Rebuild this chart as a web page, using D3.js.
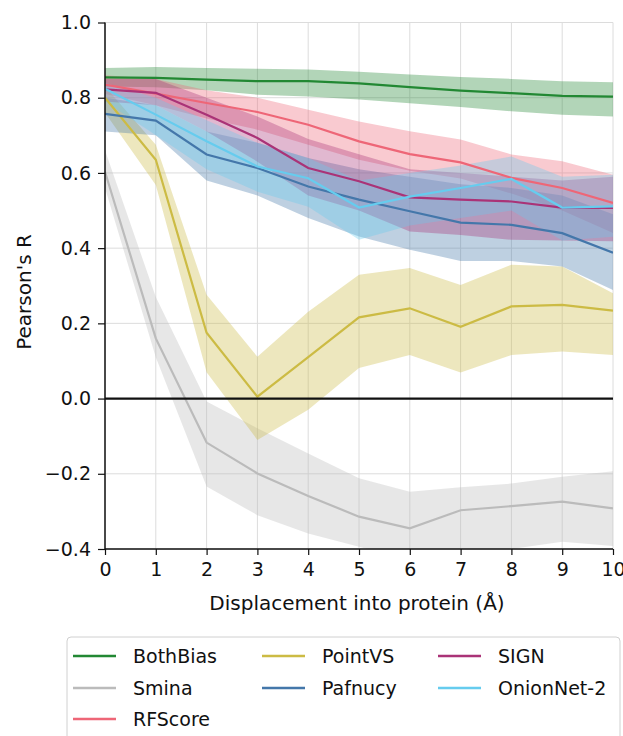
<!DOCTYPE html>
<html>
<head>
<meta charset="utf-8">
<script src="https://cdn.jsdelivr.net/npm/d3@7"></script>
<style>
  body { margin: 0; background: #fff; }
  text { font-family: "DejaVu Sans", sans-serif; }
</style>
</head>
<body>
<svg id="chart" width="623" height="736"></svg>
<script>
const displacement = [0, 1, 2, 3, 4, 5, 6, 7, 8, 9, 10];
const yTicks = [-0.4, -0.2, 0.0, 0.2, 0.4, 0.6, 0.8, 1.0];

const bothBiasMean  = [0.854, 0.853, 0.848, 0.844, 0.844, 0.838, 0.828, 0.819, 0.812, 0.805, 0.803];
const bothBiasLow   = [0.830, 0.828, 0.820, 0.808, 0.803, 0.795, 0.785, 0.775, 0.764, 0.755, 0.750];
const bothBiasHigh  = [0.879, 0.882, 0.879, 0.877, 0.875, 0.869, 0.862, 0.855, 0.850, 0.844, 0.841];

const sminaMean = [0.603, 0.160, -0.117, -0.199, -0.259, -0.314, -0.345, -0.297, -0.286, -0.274, -0.292];
const sminaLow  = [0.560, 0.110, -0.234, -0.310, -0.359, -0.394, -0.430, -0.420, -0.400, -0.381, -0.392];
const sminaHigh = [0.660, 0.270, -0.008, -0.079, -0.146, -0.212, -0.248, -0.236, -0.226, -0.208, -0.193];

const rfscoreMean = [0.835, 0.811, 0.786, 0.762, 0.728, 0.684, 0.650, 0.628, 0.587, 0.560, 0.520];
const rfscoreLow  = [0.810, 0.780, 0.745, 0.715, 0.675, 0.635, 0.606, 0.585, 0.545, 0.500, 0.440];
const rfscoreHigh = [0.860, 0.850, 0.820, 0.800, 0.768, 0.737, 0.711, 0.689, 0.649, 0.631, 0.595];

const pointvsMean = [0.800, 0.635, 0.175, 0.005, 0.110, 0.216, 0.240, 0.191, 0.245, 0.249, 0.234];
const pointvsLow  = [0.760, 0.568, 0.070, -0.110, -0.030, 0.081, 0.116, 0.069, 0.116, 0.125, 0.116];
const pointvsHigh = [0.830, 0.675, 0.276, 0.111, 0.231, 0.329, 0.347, 0.302, 0.356, 0.351, 0.280];

const pafnucyMean = [0.757, 0.739, 0.649, 0.613, 0.564, 0.529, 0.498, 0.468, 0.462, 0.440, 0.388];
const pafnucyLow  = [0.710, 0.700, 0.580, 0.540, 0.480, 0.431, 0.396, 0.366, 0.366, 0.351, 0.289];
const pafnucyHigh = [0.800, 0.780, 0.710, 0.680, 0.640, 0.610, 0.590, 0.570, 0.560, 0.540, 0.490];

const signMean = [0.822, 0.813, 0.755, 0.693, 0.613, 0.578, 0.535, 0.529, 0.524, 0.508, 0.507];
const signLow  = [0.790, 0.780, 0.710, 0.630, 0.540, 0.500, 0.444, 0.435, 0.422, 0.420, 0.418];
const signHigh = [0.850, 0.850, 0.800, 0.750, 0.690, 0.650, 0.610, 0.600, 0.590, 0.580, 0.590];

const onionMean = [0.824, 0.755, 0.684, 0.617, 0.586, 0.508, 0.537, 0.560, 0.584, 0.508, 0.511];
const onionLow  = [0.790, 0.700, 0.610, 0.550, 0.510, 0.422, 0.460, 0.480, 0.500, 0.420, 0.430];
const onionHigh = [0.840, 0.800, 0.740, 0.680, 0.640, 0.580, 0.600, 0.620, 0.644, 0.590, 0.595];

const seriesNames  = ["BothBias", "Smina", "RFScore", "PointVS", "Pafnucy", "SIGN", "OnionNet-2"];
const seriesColors = ["#228833", "#BBBBBB", "#EE6677", "#CCBB44", "#4477AA", "#AA3377", "#66CCEE"];

const series = [
  { mean: bothBiasMean, low: bothBiasLow, high: bothBiasHigh },
  { mean: sminaMean, low: sminaLow, high: sminaHigh },
  { mean: rfscoreMean, low: rfscoreLow, high: rfscoreHigh },
  { mean: pointvsMean, low: pointvsLow, high: pointvsHigh },
  { mean: pafnucyMean, low: pafnucyLow, high: pafnucyHigh },
  { mean: signMean, low: signLow, high: signHigh },
  { mean: onionMean, low: onionLow, high: onionHigh }
].map((s, i) => ({ ...s, name: seriesNames[i], color: seriesColors[i] }));

const fontSize = 19;
const labelSize = 20;
const svg = d3.select("#chart");
const margin = { left: 105, right: 10, top: 22.5, bottom: 187 };
const width = 623 - margin.left - margin.right;
const height = 736 - margin.top - margin.bottom;

const x = d3.scaleLinear().domain([0, 10]).range([0, width]);
const y = d3.scaleLinear().domain([-0.4, 1.0]).range([height, 0]);

const g = svg.append("g").attr("transform", `translate(${margin.left},${margin.top})`);

g.append("clipPath").attr("id", "plotClip")
  .append("rect").attr("width", width).attr("height", height);

// grid
g.append("g").selectAll("line").data(displacement).join("line")
  .attr("x1", d => x(d)).attr("x2", d => x(d))
  .attr("y1", 0).attr("y2", height)
  .attr("stroke", "#dcdcdc").attr("stroke-width", 1);
g.append("g").selectAll("line").data(yTicks).join("line")
  .attr("x1", 0).attr("x2", width)
  .attr("y1", d => y(d)).attr("y2", d => y(d))
  .attr("stroke", "#dcdcdc").attr("stroke-width", 1);

const plot = g.append("g").attr("clip-path", "url(#plotClip)");

const area = d3.area()
  .x((d, i) => x(displacement[i]))
  .y0(d => y(d[0]))
  .y1(d => y(d[1]));

const line = d3.line()
  .x((d, i) => x(displacement[i]))
  .y(d => y(d));

series.forEach(s => {
  plot.append("path")
    .datum(s.low.map((v, i) => [v, s.high[i]]))
    .attr("d", area)
    .attr("fill", s.color)
    .attr("fill-opacity", 0.35);
});
series.forEach(s => {
  plot.append("path")
    .datum(s.mean)
    .attr("d", line)
    .attr("fill", "none")
    .attr("stroke", s.color)
    .attr("stroke-width", 2.2);
});

// zero line
g.append("line")
  .attr("x1", 0).attr("x2", width)
  .attr("y1", y(0)).attr("y2", y(0))
  .attr("stroke", "#111").attr("stroke-width", 2.2);

// axes
const xAxis = g.append("g").attr("transform", `translate(0,${height})`)
  .call(d3.axisBottom(x).tickValues(displacement).tickFormat(d3.format("d")).tickSize(6).tickPadding(8));
const yAxis = g.append("g")
  .call(d3.axisLeft(y).tickValues(yTicks).tickSize(7).tickPadding(7)
    .tickFormat(d => d3.format(".1f")(d).replace("-", "\u2212")));

[xAxis, yAxis].forEach(a => {
  a.select(".domain").attr("stroke", "#111").attr("stroke-width", 1.5);
  a.selectAll(".tick line").attr("stroke", "#111").attr("stroke-width", 1.2);
  a.selectAll("text").attr("font-size", fontSize).attr("fill", "#111")
    .attr("font-family", "DejaVu Sans, sans-serif");
});
xAxis.select(".domain").attr("d", `M0,0H${width}`);
yAxis.select(".domain").attr("d", `M0,0V${height}`);

svg.append("text")
  .attr("x", 357).attr("y", 610)
  .attr("text-anchor", "middle").attr("font-size", labelSize).attr("fill", "#111")
  .text("Displacement into protein (Å)");

svg.append("text")
  .attr("transform", "translate(31,292) rotate(-90)")
  .attr("text-anchor", "middle").attr("font-size", labelSize).attr("fill", "#111")
  .text("Pearson's R");

// legend
const legend = svg.append("g");
legend.append("rect")
  .attr("x", 67).attr("y", 637).attr("width", 553).attr("height", 120)
  .attr("rx", 4).attr("fill", "#fff").attr("stroke", "#d0d0d0").attr("stroke-width", 1);

const colX = [73, 262, 438];
const rowY = [656, 688, 719];
const order = [[0, 0], [1, 0], [2, 0], [0, 1], [1, 1], [0, 2], [1, 2]];
series.forEach((s, i) => {
  const [row, col] = order[i];
  const lx = colX[col], ly = rowY[row];
  legend.append("line")
    .attr("x1", lx).attr("x2", lx + 43).attr("y1", ly).attr("y2", ly)
    .attr("stroke", s.color).attr("stroke-width", 2.5);
  legend.append("text")
    .attr("x", lx + 60).attr("y", ly).attr("dy", "0.35em")
    .attr("font-size", fontSize).attr("fill", "#111")
    .text(s.name);
});
</script>
</body>
</html>
